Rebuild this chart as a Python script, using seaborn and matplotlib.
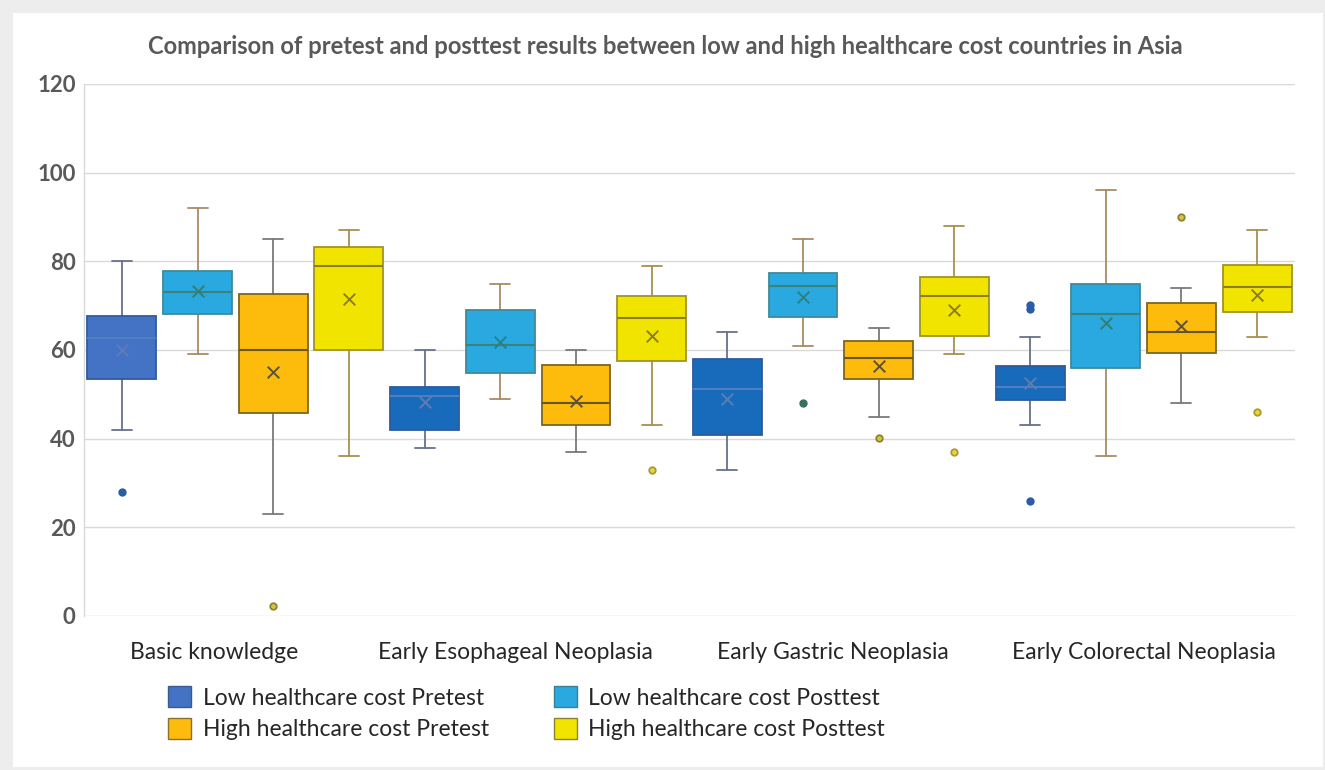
import numpy as np
import pandas as pd
import matplotlib
matplotlib.use("Agg")
import matplotlib.pyplot as plt
import matplotlib.transforms as mtransforms
import seaborn as sns
from matplotlib.patches import Patch, Rectangle

# ---------------- data ----------------
categories = ["Basic knowledge", "Early Esophageal Neoplasia",
              "Early Gastric Neoplasia", "Early Colorectal Neoplasia"]
series = ["Low healthcare cost Pretest", "Low healthcare cost Posttest",
          "High healthcare cost Pretest", "High healthcare cost Posttest"]

# rows = series (in order above), columns = categories
whisker_low = [[42, 38, 33, 43],
               [59, 49, 61, 36],
               [23, 37, 45, 48],
               [36, 43, 59, 63]]
q1 = [[53.5, 41.9, 40.9, 48.7],
      [68.1, 54.7, 67.4, 55.9],
      [45.7, 43.0, 53.5, 59.4],
      [60.0, 57.5, 63.1, 68.5]]
median = [[62.8, 49.7, 51.1, 51.6],
          [73.0, 61.1, 74.4, 68.2],
          [60.0, 48.1, 58.1, 64.1],
          [79.0, 67.2, 72.1, 74.1]]
q3 = [[67.7, 51.6, 57.9, 56.5],
      [77.9, 69.1, 77.4, 75.0],
      [72.6, 56.7, 62.1, 70.5],
      [83.2, 72.1, 76.5, 79.1]]
whisker_high = [[80, 60, 64, 63],
                [92, 75, 85, 96],
                [85, 60, 65, 74],
                [87, 79, 88, 87]]
means = [[60.0, 48.2, 49.0, 52.6],
         [73.2, 61.9, 71.9, 66.0],
         [55.0, 48.5, 56.4, 65.5],
         [71.4, 63.2, 69.0, 72.3]]
outliers = [[[28], [], [], [70.2, 69.2, 26]],
            [[], [], [48], []],
            [[2.2], [], [40.2], [90.1]],
            [[], [33], [37], [46.1]]]
y_ticks = [0, 20, 40, 60, 80, 100, 120]

# ---------------- style ----------------
fill_colors = [["#4472C4", "#176BBA", "#176BBA", "#176BBA"],
               ["#29A9E0"] * 4,
               ["#FDBB0B"] * 4,
               ["#F1E500"] * 4]
edge_colors = ["#2F5B9E", "#3F8A98", "#7E6420", "#A39228"]
median_colors = ["#4F7FC0", "#3C8278", "#6A5424", "#8C7C2C"]
whisker_colors = ["#66718C", "#A88B63", "#7A7A7A", "#A89052"]
mean_colors = ["#5D7DB3", "#2F7F78", "#5E5232", "#8A7B34"]
flier_face = ["#2A5CA8", "#3D6E62", "#D8C24A", "#E8D640"]
flier_edge = ["#2A5CA8", "#3D6E62", "#8A8530", "#A89B30"]
label_shift_px = [-21, -23, -8, 0]

W, H = 1325, 770
sns.set_theme(style="whitegrid")
plt.rcParams["font.family"] = ["Lato", "DejaVu Sans"]

fig = plt.figure(figsize=(W / 100, H / 100), dpi=100, facecolor="#EDEDED")
panel = Rectangle((13 / W, 3 / H), 1310 / W, 754 / H,
                  transform=fig.transFigure, facecolor="white",
                  edgecolor="none", zorder=-10)
fig.patches.append(panel)
ax = fig.add_axes([84 / W, (H - 616) / H, 1211 / W, 532 / H])
ax.set_facecolor("white")
ax.set_zorder(1)

n_ser = len(series)
slot = 1.0 / n_ser
box_w = slot * 0.91

for s in range(n_ser):
    stats = []
    for c in range(len(categories)):
        stats.append(dict(whislo=whisker_low[s][c], q1=q1[s][c], med=median[s][c],
                          q3=q3[s][c], whishi=whisker_high[s][c],
                          mean=means[s][c], fliers=[]))
    pos = [c + (s - (n_ser - 1) / 2) * slot for c in range(len(categories))]
    bp = ax.bxp(stats, positions=pos, widths=box_w, patch_artist=True,
                showmeans=False, showfliers=False, capwidths=0.066,
                manage_ticks=False,
                boxprops=dict(edgecolor=edge_colors[s], linewidth=1.3),
                medianprops=dict(color=median_colors[s], linewidth=1.5),
                whiskerprops=dict(color=whisker_colors[s], linewidth=1.3),
                capprops=dict(color=whisker_colors[s], linewidth=1.3))
    for c, patch in enumerate(bp["boxes"]):
        patch.set_facecolor(fill_colors[s][c])
        patch.set_zorder(3)
    for ln in bp["medians"]:
        ln.set_zorder(4)

    # means
    mdf = pd.DataFrame({"x": pos, "y": means[s]})
    sns.scatterplot(data=mdf, x="x", y="y", ax=ax, marker="x", s=70,
                    color=mean_colors[s], linewidth=1.4, zorder=5, legend=False)
    # outliers
    fx, fy = [], []
    for c in range(len(categories)):
        for v in outliers[s][c]:
            fx.append(pos[c])
            fy.append(v)
    if fx:
        fdf = pd.DataFrame({"x": fx, "y": fy})
        sns.scatterplot(data=fdf, x="x", y="y", ax=ax, marker="o", s=22,
                        color=flier_face[s], edgecolor=flier_edge[s],
                        linewidth=1.3, zorder=5, legend=False)

ax.set_xlim(-0.5, len(categories) - 0.5)
ax.set_ylim(0, 120)
ax.set_yticks(y_ticks)
ax.set_yticklabels([str(t) for t in y_ticks], fontsize=16, fontweight="bold",
                   color="#595959")
ax.set_xticks(range(len(categories)))
ax.set_xticklabels(categories, fontsize=16.5, color="#262626")
ax.tick_params(axis="y", length=0, pad=6)
ax.tick_params(axis="x", length=0, pad=19)
for lbl, dx in zip(ax.get_xticklabels(), label_shift_px):
    lbl.set_transform(lbl.get_transform() +
                      mtransforms.ScaledTranslation(dx / 100, 0, fig.dpi_scale_trans))
ax.set_xlabel("")
ax.set_ylabel("")
ax.grid(axis="x", visible=False)
ax.grid(axis="y", color="#D9D9D9", linewidth=1.0)
ax.set_axisbelow(True)
for side in ["top", "right", "bottom"]:
    ax.spines[side].set_visible(False)
ax.spines["left"].set_color("#D9D9D9")
ax.spines["left"].set_linewidth(1.0)

fig.text(665 / W, 1 - 47 / H,
         "Comparison of pretest and posttest results between low and high healthcare cost countries in Asia",
         ha="center", va="center", fontsize=17.1, fontweight="bold", color="#595959")

legend_fill = ["#4472C4", "#29A9E0", "#FDBB0B", "#F1E500"]
legend_edge = ["#3A5A90", "#3A7E98", "#8A7030", "#8A8030"]
order = [0, 2, 1, 3]
handles = [Patch(facecolor=legend_fill[i], edgecolor=legend_edge[i], linewidth=1.0)
           for i in order]
labels = [series[i] for i in order]
fig.legend(handles, labels, ncol=2, loc="upper left",
           bbox_to_anchor=(157 / W, 1 - 675 / H), frameon=False,
           fontsize=16.5, handlelength=1.0, handleheight=1.0,
           handletextpad=0.5, columnspacing=2.82, labelspacing=0.42,
           borderpad=0, labelcolor="#262626")

fig.savefig("out.png", dpi=100, facecolor=fig.get_facecolor())
